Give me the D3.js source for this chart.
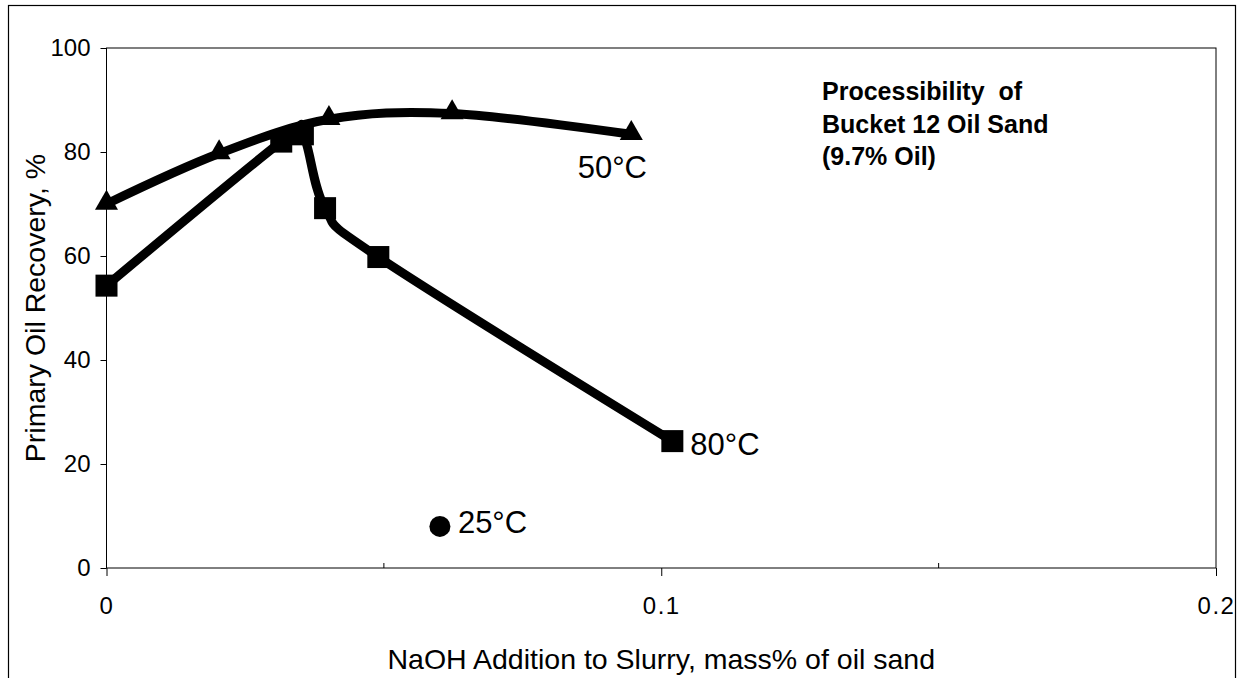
<!DOCTYPE html>
<html>
<head>
<meta charset="utf-8">
<script src="https://cdn.jsdelivr.net/npm/d3@7"></script>
<style>
  body { margin: 0; background: #fff; }
  text { font-family: Arial, "Liberation Sans", sans-serif; fill: #000; }
</style>
</head>
<body>
<div id="chart"></div>
<script>
// data
const naoh50 = [0, 0.0203, 0.0401, 0.0623, 0.0946];
const rec50 = [70, 79.7, 86.3, 87.4, 83.4];
const naoh80 = [0, 0.0315, 0.0354, 0.0394, 0.049, 0.102];
const rec80 = [54.3, 82, 83.4, 69.2, 59.8, 24.4];
const naoh25 = [0.0601];
const rec25 = [8];
const xMajor = [0, 0.1, 0.2];
const xMinor = [0.05, 0.15];
const yTicks = [0, 20, 40, 60, 80, 100];
const titleLines = ['Processibility  of', 'Bucket 12 Oil Sand', '(9.7% Oil)'];

const width = 1243,
height = 678,
plot = { left: 106.5, right: 1216, top: 48, bottom: 568 };

const FONT = 'Arial, "Liberation Sans", sans-serif';

const svg = d3.select('#chart').
append('svg').
attr('width', width).
attr('height', height);

// outer chart border (runs off bottom edge)
svg.append('rect').
attr('x', 8.5).
attr('y', 5.5).
attr('width', 1227).
attr('height', 700).
attr('fill', 'none').
attr('stroke', '#000').
attr('stroke-width', 1.2);

const x = d3.scaleLinear().domain([0, 0.2]).range([plot.left, plot.right]);
const y = d3.scaleLinear().domain([0, 100]).range([plot.bottom, plot.top]);

// plot frame
svg.append('rect').
attr('x', plot.left).
attr('y', plot.top).
attr('width', plot.right - plot.left).
attr('height', plot.bottom - plot.top).
attr('fill', 'none').
attr('stroke', '#000').
attr('stroke-width', 1);

// y axis
const yAxis = svg.append('g').
attr('transform', `translate(${plot.left},0)`).
call(d3.axisLeft(y).tickValues(yTicks).tickSize(6).tickPadding(10).tickFormat(d3.format('d')));
yAxis.attr('font-size', 24).attr('font-family', FONT);
yAxis.select('.domain').remove();

// x axis, major ticks outward
const xAxis = svg.append('g').
attr('transform', `translate(0,${plot.bottom})`).
call(d3.axisBottom(x).tickValues(xMajor).tickSize(8).tickPadding(21).tickFormat(d => d === 0 ? '0' : d3.format('.1f')(d)));
xAxis.attr('font-size', 24).attr('font-family', FONT);
xAxis.select('.domain').remove();
xAxis.selectAll('text').attr('letter-spacing', 1.5);

// minor ticks inward
svg.append('g').
selectAll('line').
data(xMinor).
enter().
append('line').
attr('x1', d => x(d)).
attr('x2', d => x(d)).
attr('y1', plot.bottom).
attr('y2', plot.bottom - 5).
attr('stroke', '#000');

// axis titles
svg.append('text').
attr('x', (plot.left + plot.right) / 2).
attr('y', 669).
attr('text-anchor', 'middle').
style('font-size', '28.5px').
text('NaOH Addition to Slurry, mass% of oil sand');

svg.append('text').
attr('transform', `translate(45,${(plot.top + plot.bottom) / 2}) rotate(-90)`).
attr('text-anchor', 'middle').
style('font-size', '28.5px').
text('Primary Oil Recovery, %');

// series
const line = d3.line().
x(d => x(d[0])).
y(d => y(d[1])).
curve(d3.curveCatmullRom.alpha(0));

const pts50 = naoh50.map((d, i) => [d, rec50[i]]);
const pts80 = naoh80.map((d, i) => [d, rec80[i]]);
const pts25 = naoh25.map((d, i) => [d, rec25[i]]);

svg.append('path').
datum(pts80).
attr('d', line).
attr('fill', 'none').
attr('stroke', '#000').
attr('stroke-width', 9);

svg.append('path').
datum(pts50).
attr('d', line).
attr('fill', 'none').
attr('stroke', '#000').
attr('stroke-width', 9);

const tri = d3.symbol().type(d3.symbolTriangle).size(230);
svg.append('g').
selectAll('path').
data(pts50).
enter().
append('path').
attr('d', tri).
attr('transform', d => `translate(${x(d[0])},${y(d[1]) - 1})`).
attr('fill', '#000');

svg.append('g').
selectAll('rect').
data(pts80).
enter().
append('rect').
attr('x', d => x(d[0]) - 11).
attr('y', d => y(d[1]) - 11).
attr('width', 22).
attr('height', 22).
attr('fill', '#000');

svg.append('g').
selectAll('circle').
data(pts25).
enter().
append('circle').
attr('cx', d => x(d[0])).
attr('cy', d => y(d[1])).
attr('r', 10.5).
attr('fill', '#000');

// series labels
const last50 = pts50[pts50.length - 1],
last80 = pts80[pts80.length - 1],
first25 = pts25[0];

svg.append('text').
attr('x', x(last50[0]) - 19).
attr('y', y(last50[1]) + 44).
attr('text-anchor', 'middle').
style('font-size', '31px').
text('50°C');

svg.append('text').
attr('x', x(last80[0]) + 18).
attr('y', y(last80[1]) + 14).
style('font-size', '31px').
text('80°C');

svg.append('text').
attr('x', x(first25[0]) + 18).
attr('y', y(first25[1]) + 7).
style('font-size', '31px').
text('25°C');

// chart title
svg.append('g').
selectAll('text').
data(titleLines).
enter().
append('text').
attr('x', 822).
attr('y', (d, i) => 100 + i * 32.5).
style('font-size', '25px').
style('font-weight', 'bold').
style('white-space', 'pre').
text(d => d);
</script>
</body>
</html>
